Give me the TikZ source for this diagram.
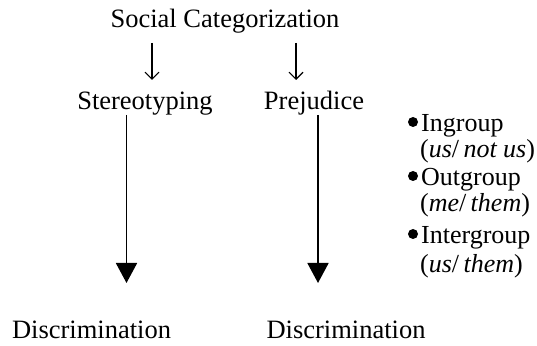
\documentclass[tikz,border=0pt]{standalone}
\usepackage{fontspec}
\setmainfont{Liberation Serif}
\usetikzlibrary{arrows.meta}
\begin{document}
\begin{tikzpicture}[x=1pt,y=1pt,
  lbl/.style={anchor=base,inner sep=0pt,font=\fontsize{26.5}{30}\selectfont},
  item/.style={anchor=base west,inner sep=0pt,font=\fontsize{26}{30}\selectfont},
  smallarrow/.style={line width=1.1pt,-{Straight Barb[length=7pt,width=14pt,line width=1.1pt]}},
  bigarrow/.style={line width=1.8pt,-{Triangle[length=20pt,width=21pt]}},
  dot/.style={circle,fill=black,inner sep=0pt,minimum size=10pt}]
\useasboundingbox (0,0) rectangle (537,345);
\node[lbl] (title) at (225,317) {Social Categorization};
\node[lbl] (stereo) at (145,235) {Stereotyping};
\node[lbl] (prej) at (314,235) {Prejudice};
\node[lbl] (disc1) at (91.5,7) {Discrimination};
\node[lbl] (disc2) at (346,7) {Discrimination};
% small arrows
\coordinate (s1a) at (152,302); \coordinate (s1b) at (152,265);
\coordinate (s2a) at (296,302); \coordinate (s2b) at (296,265);
\draw[smallarrow] (s1a) -- (s1b);
\draw[smallarrow] (s2a) -- (s2b);
% long arrows
\coordinate (l1a) at (126.5,230); \coordinate (l1b) at (126.5,62);
\coordinate (l2a) at (318,230); \coordinate (l2b) at (318,62);
\draw[bigarrow] (l1a) -- (l1b);
\draw[bigarrow] (l2a) -- (l2b);
% list
\node[item] (in) at (421,213) {Ingroup};
\node[item] (inb) at (420,187) {(\textit{us}/\,\textit{not us})};
\node[item] (out) at (421,159) {Outgroup};
\node[item] (outb) at (420,133) {(\textit{me}/\,\textit{them})};
\node[item] (inter) at (421,101) {Intergroup};
\node[item] (interb) at (420,73) {(\textit{us}/\,\textit{them})};
\node[dot] (d1) at (413,223) {};
\node[dot] (d2) at (413,169) {};
\node[dot] (d3) at (413,111) {};
\end{tikzpicture}
\end{document}
